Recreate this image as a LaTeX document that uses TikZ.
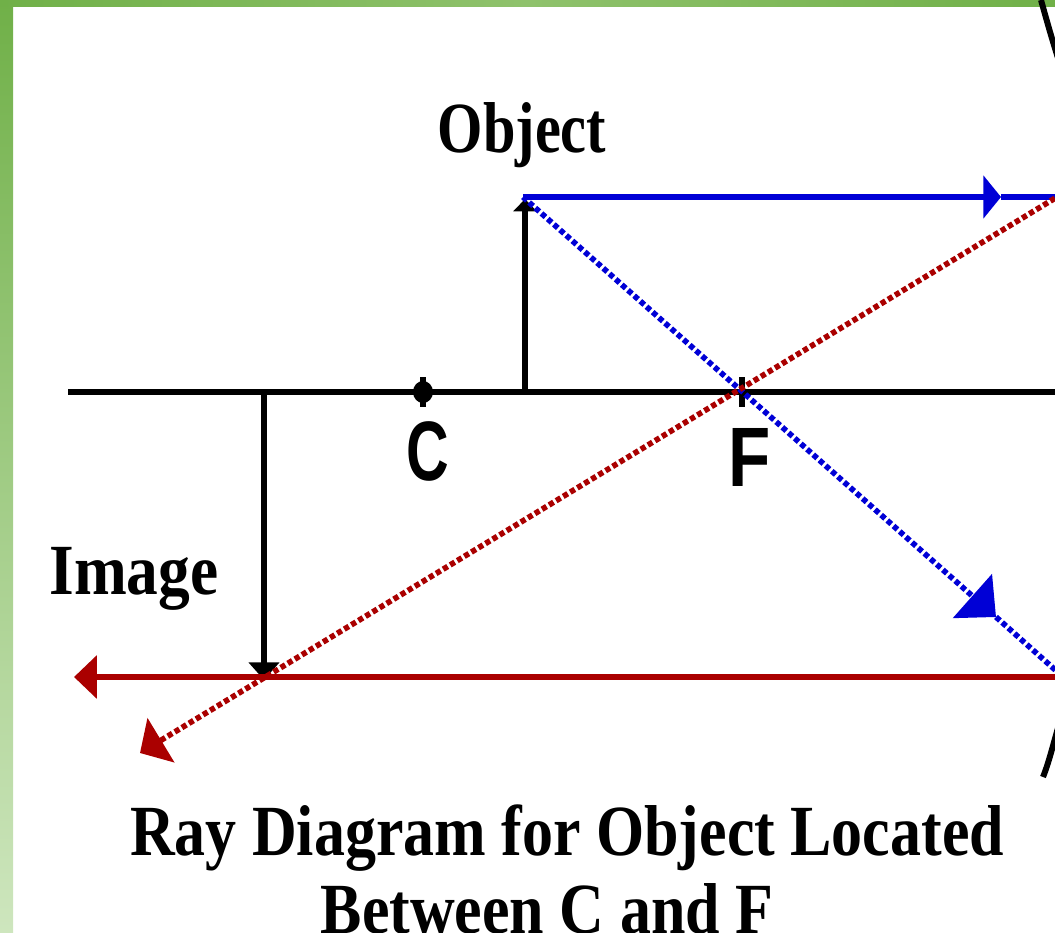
\documentclass[tikz,border=0pt]{standalone}
\usepackage{fontspec}
\setmainfont{Liberation Serif}
\setsansfont{Liberation Sans}
\usepackage{tikz}
\usetikzlibrary{calc,arrows.meta}
\definecolor{raybl}{RGB}{0,0,214}
\definecolor{rayrd}{RGB}{170,0,0}
\definecolor{grdark}{RGB}{112,176,72}
\definecolor{grmid}{RGB}{143,194,108}
\definecolor{grpale}{RGB}{206,230,190}

\tikzset{
    thickline/.style={line width=3.4pt},
    dotline/.style={line width=3.2pt, dash pattern=on 3pt off 1.7pt},
    lbl/.style={font=\bfseries\fontsize{41}{41}\selectfont, inner sep=0pt, anchor=base},
    ptlbl/.style={font=\sffamily\bfseries\fontsize{48}{48}\selectfont, inner sep=0pt, anchor=base}
}

\begin{document}
\begin{tikzpicture}[x=0.02cm, y=-0.02cm, line join=round]
    \useasboundingbox (0,0) rectangle (1055,933);
    \clip (0,0) rectangle (1055,933);
    % frame
    \shade[top color=grdark, bottom color=grpale] (0,0) rectangle (13,933);
    \shade[left color=grdark, right color=grdark, middle color=grmid] (0,0) rectangle (1055,6);
    \coordinate (L) at (68,392);
    \coordinate (R) at (1060,392);
    \coordinate (C) at (423,392);
    \coordinate (F) at (742,392);
    \coordinate (O1) at (525,392);
    \coordinate (O2) at (525,199);
    \coordinate (I1) at (264,392);
    \coordinate (I2) at (264,680);
    % axis and marks
    \draw[thickline] (L) -- (R);
    \fill (C) ellipse (10 and 11);
    \draw[thickline] ($(C)+(0,-15)$) -- ($(C)+(0,15)$);
    \draw[thickline] ($(F)+(0,-15)$) -- ($(F)+(0,15)$);
    % mirror ends
    \draw[thickline] (1041,0) .. controls (1046,18) and (1051,36) .. (1058,58);
    \draw[thickline] (1058,728) .. controls (1053,745) and (1049,762) .. (1043,777);
    % object and image
    \draw[thickline, -{Triangle[width=13pt, length=7pt]}] (O1) -- (O2);
    \draw[thickline, -{Triangle[width=17pt, length=10pt]}] (I1) -- (I2);
    % blue rays
    \coordinate (B1) at (523,197);
    \coordinate (B2) at (1001,197);
    \coordinate (B3) at (1060,197);
    \coordinate (B4) at (996,617);
    \coordinate (B5) at (1062,676);
    \draw[thickline, raybl, -{Triangle[width=24pt, length=10pt]}] (B1) -- (B2);
    \draw[thickline, raybl] (B2) -- (B3);
    \draw[dotline, raybl, -{Triangle[width=33pt, length=18pt]}] (B1) -- (B4);
    \draw[dotline, raybl] (B4) -- (B5);
    % red rays
    \coordinate (R1) at (1062,677);
    \coordinate (R2) at (74,677);
    \coordinate (R3) at (1062,194);
    \coordinate (R4) at (140,753);
    \draw[thickline, rayrd, -{Triangle[width=24pt, length=13pt]}] (R1) -- (R2);
    \draw[dotline, rayrd, -{Triangle[width=29pt, length=14pt]}] (R3) -- (R4);
    % labels
    \node[lbl] (objlbl) at (522,152) {\scalebox{0.81}[1]{Object}};
    \node[lbl] (imglbl) at (134,594) {\scalebox{0.88}[1]{Image}};
    \node[ptlbl] (clbl) at (428,480) {\scalebox{0.7}[1]{C}};
    \node[ptlbl] (flbl) at (750,486) {\scalebox{0.82}[1]{F}};
    \node[lbl] (title1) at (567,855) {\scalebox{0.86}[1]{Ray Diagram for Object Located}};
    \node[lbl] (title2) at (547,933) {\scalebox{0.86}[1]{Between C and F}};
\end{tikzpicture}
\end{document}
